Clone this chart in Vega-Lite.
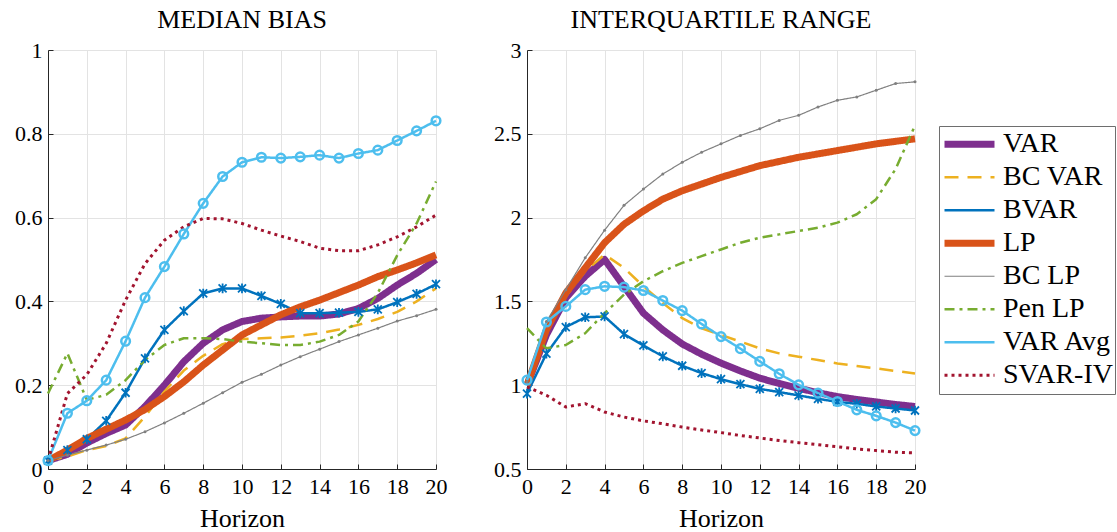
{
  "$schema": "https://vega.github.io/schema/vega-lite/v6.json",
  "background": "white",
  "padding": {"left": 14, "top": 7, "right": 0, "bottom": 0},
  "datasets": {
    "mb": [
      {"s":"VAR","h":0,"v":0.02},{"s":"VAR","h":1,"v":0.035},{"s":"VAR","h":2,"v":0.062},{"s":"VAR","h":3,"v":0.085},{"s":"VAR","h":4,"v":0.105},{"s":"VAR","h":5,"v":0.149},{"s":"VAR","h":6,"v":0.2},{"s":"VAR","h":7,"v":0.256},{"s":"VAR","h":8,"v":0.3},{"s":"VAR","h":9,"v":0.332},{"s":"VAR","h":10,"v":0.352},{"s":"VAR","h":11,"v":0.36},{"s":"VAR","h":12,"v":0.363},{"s":"VAR","h":13,"v":0.365},{"s":"VAR","h":14,"v":0.365},{"s":"VAR","h":15,"v":0.37},{"s":"VAR","h":16,"v":0.383},{"s":"VAR","h":17,"v":0.407},{"s":"VAR","h":18,"v":0.439},{"s":"VAR","h":19,"v":0.467},{"s":"VAR","h":20,"v":0.5},
      {"s":"BC VAR","h":0,"v":0.02},{"s":"BC VAR","h":1,"v":0.03},{"s":"BC VAR","h":2,"v":0.045},{"s":"BC VAR","h":3,"v":0.055},{"s":"BC VAR","h":4,"v":0.073},{"s":"BC VAR","h":5,"v":0.125},{"s":"BC VAR","h":6,"v":0.185},{"s":"BC VAR","h":7,"v":0.235},{"s":"BC VAR","h":8,"v":0.27},{"s":"BC VAR","h":9,"v":0.298},{"s":"BC VAR","h":10,"v":0.31},{"s":"BC VAR","h":11,"v":0.312},{"s":"BC VAR","h":12,"v":0.314},{"s":"BC VAR","h":13,"v":0.318},{"s":"BC VAR","h":14,"v":0.324},{"s":"BC VAR","h":15,"v":0.333},{"s":"BC VAR","h":16,"v":0.344},{"s":"BC VAR","h":17,"v":0.358},{"s":"BC VAR","h":18,"v":0.375},{"s":"BC VAR","h":19,"v":0.4},{"s":"BC VAR","h":20,"v":0.431},
      {"s":"BVAR","h":0,"v":0.02},{"s":"BVAR","h":1,"v":0.045},{"s":"BVAR","h":2,"v":0.071},{"s":"BVAR","h":3,"v":0.115},{"s":"BVAR","h":4,"v":0.182},{"s":"BVAR","h":5,"v":0.264},{"s":"BVAR","h":6,"v":0.332},{"s":"BVAR","h":7,"v":0.377},{"s":"BVAR","h":8,"v":0.419},{"s":"BVAR","h":9,"v":0.431},{"s":"BVAR","h":10,"v":0.431},{"s":"BVAR","h":11,"v":0.413},{"s":"BVAR","h":12,"v":0.394},{"s":"BVAR","h":13,"v":0.372},{"s":"BVAR","h":14,"v":0.372},{"s":"BVAR","h":15,"v":0.373},{"s":"BVAR","h":16,"v":0.375},{"s":"BVAR","h":17,"v":0.381},{"s":"BVAR","h":18,"v":0.398},{"s":"BVAR","h":19,"v":0.418},{"s":"BVAR","h":20,"v":0.441},
      {"s":"LP","h":0,"v":0.02},{"s":"LP","h":1,"v":0.045},{"s":"LP","h":2,"v":0.073},{"s":"LP","h":3,"v":0.095},{"s":"LP","h":4,"v":0.117},{"s":"LP","h":5,"v":0.142},{"s":"LP","h":6,"v":0.173},{"s":"LP","h":7,"v":0.208},{"s":"LP","h":8,"v":0.248},{"s":"LP","h":9,"v":0.284},{"s":"LP","h":10,"v":0.32},{"s":"LP","h":11,"v":0.344},{"s":"LP","h":12,"v":0.368},{"s":"LP","h":13,"v":0.387},{"s":"LP","h":14,"v":0.403},{"s":"LP","h":15,"v":0.421},{"s":"LP","h":16,"v":0.439},{"s":"LP","h":17,"v":0.459},{"s":"LP","h":18,"v":0.475},{"s":"LP","h":19,"v":0.492},{"s":"LP","h":20,"v":0.511},
      {"s":"BC LP","h":0,"v":0.02},{"s":"BC LP","h":1,"v":0.033},{"s":"BC LP","h":2,"v":0.045},{"s":"BC LP","h":3,"v":0.057},{"s":"BC LP","h":4,"v":0.071},{"s":"BC LP","h":5,"v":0.089},{"s":"BC LP","h":6,"v":0.11},{"s":"BC LP","h":7,"v":0.133},{"s":"BC LP","h":8,"v":0.157},{"s":"BC LP","h":9,"v":0.182},{"s":"BC LP","h":10,"v":0.207},{"s":"BC LP","h":11,"v":0.226},{"s":"BC LP","h":12,"v":0.248},{"s":"BC LP","h":13,"v":0.268},{"s":"BC LP","h":14,"v":0.286},{"s":"BC LP","h":15,"v":0.304},{"s":"BC LP","h":16,"v":0.32},{"s":"BC LP","h":17,"v":0.336},{"s":"BC LP","h":18,"v":0.353},{"s":"BC LP","h":19,"v":0.366},{"s":"BC LP","h":20,"v":0.381},
      {"s":"Pen LP","h":0,"v":0.18},{"s":"Pen LP","h":1,"v":0.276},{"s":"Pen LP","h":2,"v":0.165},{"s":"Pen LP","h":3,"v":0.177},{"s":"Pen LP","h":4,"v":0.212},{"s":"Pen LP","h":5,"v":0.26},{"s":"Pen LP","h":6,"v":0.296},{"s":"Pen LP","h":7,"v":0.312},{"s":"Pen LP","h":8,"v":0.312},{"s":"Pen LP","h":9,"v":0.31},{"s":"Pen LP","h":10,"v":0.304},{"s":"Pen LP","h":11,"v":0.3},{"s":"Pen LP","h":12,"v":0.296},{"s":"Pen LP","h":13,"v":0.296},{"s":"Pen LP","h":14,"v":0.304},{"s":"Pen LP","h":15,"v":0.32},{"s":"Pen LP","h":16,"v":0.352},{"s":"Pen LP","h":17,"v":0.42},{"s":"Pen LP","h":18,"v":0.51},{"s":"Pen LP","h":19,"v":0.586},{"s":"Pen LP","h":20,"v":0.686},
      {"s":"VAR Avg","h":0,"v":0.02},{"s":"VAR Avg","h":1,"v":0.133},{"s":"VAR Avg","h":2,"v":0.163},{"s":"VAR Avg","h":3,"v":0.212},{"s":"VAR Avg","h":4,"v":0.305},{"s":"VAR Avg","h":5,"v":0.409},{"s":"VAR Avg","h":6,"v":0.483},{"s":"VAR Avg","h":7,"v":0.561},{"s":"VAR Avg","h":8,"v":0.634},{"s":"VAR Avg","h":9,"v":0.698},{"s":"VAR Avg","h":10,"v":0.732},{"s":"VAR Avg","h":11,"v":0.744},{"s":"VAR Avg","h":12,"v":0.742},{"s":"VAR Avg","h":13,"v":0.745},{"s":"VAR Avg","h":14,"v":0.749},{"s":"VAR Avg","h":15,"v":0.742},{"s":"VAR Avg","h":16,"v":0.753},{"s":"VAR Avg","h":17,"v":0.761},{"s":"VAR Avg","h":18,"v":0.784},{"s":"VAR Avg","h":19,"v":0.807},{"s":"VAR Avg","h":20,"v":0.831},
      {"s":"SVAR-IV","h":0,"v":0.02},{"s":"SVAR-IV","h":1,"v":0.18},{"s":"SVAR-IV","h":2,"v":0.225},{"s":"SVAR-IV","h":3,"v":0.3},{"s":"SVAR-IV","h":4,"v":0.403},{"s":"SVAR-IV","h":5,"v":0.49},{"s":"SVAR-IV","h":6,"v":0.546},{"s":"SVAR-IV","h":7,"v":0.578},{"s":"SVAR-IV","h":8,"v":0.598},{"s":"SVAR-IV","h":9,"v":0.597},{"s":"SVAR-IV","h":10,"v":0.586},{"s":"SVAR-IV","h":11,"v":0.57},{"s":"SVAR-IV","h":12,"v":0.556},{"s":"SVAR-IV","h":13,"v":0.543},{"s":"SVAR-IV","h":14,"v":0.527},{"s":"SVAR-IV","h":15,"v":0.521},{"s":"SVAR-IV","h":16,"v":0.521},{"s":"SVAR-IV","h":17,"v":0.535},{"s":"SVAR-IV","h":18,"v":0.554},{"s":"SVAR-IV","h":19,"v":0.578},{"s":"SVAR-IV","h":20,"v":0.606}
    ],
    "iqr": [
      {"s":"VAR","h":0,"v":1.0},{"s":"VAR","h":1,"v":1.3},{"s":"VAR","h":2,"v":1.52},{"s":"VAR","h":3,"v":1.65},{"s":"VAR","h":4,"v":1.75},{"s":"VAR","h":5,"v":1.59},{"s":"VAR","h":6,"v":1.43},{"s":"VAR","h":7,"v":1.33},{"s":"VAR","h":8,"v":1.246},{"s":"VAR","h":9,"v":1.185},{"s":"VAR","h":10,"v":1.132},{"s":"VAR","h":11,"v":1.085},{"s":"VAR","h":12,"v":1.042},{"s":"VAR","h":13,"v":1.01},{"s":"VAR","h":14,"v":0.982},{"s":"VAR","h":15,"v":0.955},{"s":"VAR","h":16,"v":0.932},{"s":"VAR","h":17,"v":0.915},{"s":"VAR","h":18,"v":0.9},{"s":"VAR","h":19,"v":0.885},{"s":"VAR","h":20,"v":0.873},
      {"s":"BC VAR","h":0,"v":1.0},{"s":"BC VAR","h":1,"v":1.32},{"s":"BC VAR","h":2,"v":1.53},{"s":"BC VAR","h":3,"v":1.68},{"s":"BC VAR","h":4,"v":1.78},{"s":"BC VAR","h":5,"v":1.7},{"s":"BC VAR","h":6,"v":1.59},{"s":"BC VAR","h":7,"v":1.49},{"s":"BC VAR","h":8,"v":1.4},{"s":"BC VAR","h":9,"v":1.34},{"s":"BC VAR","h":10,"v":1.3},{"s":"BC VAR","h":11,"v":1.26},{"s":"BC VAR","h":12,"v":1.22},{"s":"BC VAR","h":13,"v":1.19},{"s":"BC VAR","h":14,"v":1.17},{"s":"BC VAR","h":15,"v":1.15},{"s":"BC VAR","h":16,"v":1.13},{"s":"BC VAR","h":17,"v":1.115},{"s":"BC VAR","h":18,"v":1.1},{"s":"BC VAR","h":19,"v":1.085},{"s":"BC VAR","h":20,"v":1.07},
      {"s":"BVAR","h":0,"v":0.95},{"s":"BVAR","h":1,"v":1.188},{"s":"BVAR","h":2,"v":1.347},{"s":"BVAR","h":3,"v":1.405},{"s":"BVAR","h":4,"v":1.41},{"s":"BVAR","h":5,"v":1.305},{"s":"BVAR","h":6,"v":1.237},{"s":"BVAR","h":7,"v":1.172},{"s":"BVAR","h":8,"v":1.116},{"s":"BVAR","h":9,"v":1.072},{"s":"BVAR","h":10,"v":1.036},{"s":"BVAR","h":11,"v":1.006},{"s":"BVAR","h":12,"v":0.978},{"s":"BVAR","h":13,"v":0.959},{"s":"BVAR","h":14,"v":0.939},{"s":"BVAR","h":15,"v":0.919},{"s":"BVAR","h":16,"v":0.9},{"s":"BVAR","h":17,"v":0.889},{"s":"BVAR","h":18,"v":0.873},{"s":"BVAR","h":19,"v":0.861},{"s":"BVAR","h":20,"v":0.849},
      {"s":"LP","h":0,"v":1.0},{"s":"LP","h":1,"v":1.33},{"s":"LP","h":2,"v":1.55},{"s":"LP","h":3,"v":1.7},{"s":"LP","h":4,"v":1.85},{"s":"LP","h":5,"v":1.96},{"s":"LP","h":6,"v":2.04},{"s":"LP","h":7,"v":2.11},{"s":"LP","h":8,"v":2.16},{"s":"LP","h":9,"v":2.2},{"s":"LP","h":10,"v":2.24},{"s":"LP","h":11,"v":2.275},{"s":"LP","h":12,"v":2.31},{"s":"LP","h":13,"v":2.335},{"s":"LP","h":14,"v":2.36},{"s":"LP","h":15,"v":2.38},{"s":"LP","h":16,"v":2.4},{"s":"LP","h":17,"v":2.42},{"s":"LP","h":18,"v":2.44},{"s":"LP","h":19,"v":2.455},{"s":"LP","h":20,"v":2.47},
      {"s":"BC LP","h":0,"v":1.02},{"s":"BC LP","h":1,"v":1.38},{"s":"BC LP","h":2,"v":1.57},{"s":"BC LP","h":3,"v":1.76},{"s":"BC LP","h":4,"v":1.925},{"s":"BC LP","h":5,"v":2.073},{"s":"BC LP","h":6,"v":2.17},{"s":"BC LP","h":7,"v":2.26},{"s":"BC LP","h":8,"v":2.33},{"s":"BC LP","h":9,"v":2.39},{"s":"BC LP","h":10,"v":2.44},{"s":"BC LP","h":11,"v":2.49},{"s":"BC LP","h":12,"v":2.53},{"s":"BC LP","h":13,"v":2.58},{"s":"BC LP","h":14,"v":2.61},{"s":"BC LP","h":15,"v":2.66},{"s":"BC LP","h":16,"v":2.7},{"s":"BC LP","h":17,"v":2.72},{"s":"BC LP","h":18,"v":2.76},{"s":"BC LP","h":19,"v":2.8},{"s":"BC LP","h":20,"v":2.81},
      {"s":"Pen LP","h":0,"v":1.34},{"s":"Pen LP","h":1,"v":1.22},{"s":"Pen LP","h":2,"v":1.24},{"s":"Pen LP","h":3,"v":1.31},{"s":"Pen LP","h":4,"v":1.43},{"s":"Pen LP","h":5,"v":1.54},{"s":"Pen LP","h":6,"v":1.62},{"s":"Pen LP","h":7,"v":1.68},{"s":"Pen LP","h":8,"v":1.73},{"s":"Pen LP","h":9,"v":1.77},{"s":"Pen LP","h":10,"v":1.81},{"s":"Pen LP","h":11,"v":1.85},{"s":"Pen LP","h":12,"v":1.88},{"s":"Pen LP","h":13,"v":1.9},{"s":"Pen LP","h":14,"v":1.92},{"s":"Pen LP","h":15,"v":1.94},{"s":"Pen LP","h":16,"v":1.97},{"s":"Pen LP","h":17,"v":2.02},{"s":"Pen LP","h":18,"v":2.11},{"s":"Pen LP","h":19,"v":2.29},{"s":"Pen LP","h":20,"v":2.55},
      {"s":"VAR Avg","h":0,"v":1.03},{"s":"VAR Avg","h":1,"v":1.377},{"s":"VAR Avg","h":2,"v":1.47},{"s":"VAR Avg","h":3,"v":1.57},{"s":"VAR Avg","h":4,"v":1.59},{"s":"VAR Avg","h":5,"v":1.585},{"s":"VAR Avg","h":6,"v":1.565},{"s":"VAR Avg","h":7,"v":1.505},{"s":"VAR Avg","h":8,"v":1.445},{"s":"VAR Avg","h":9,"v":1.365},{"s":"VAR Avg","h":10,"v":1.29},{"s":"VAR Avg","h":11,"v":1.218},{"s":"VAR Avg","h":12,"v":1.142},{"s":"VAR Avg","h":13,"v":1.068},{"s":"VAR Avg","h":14,"v":1.002},{"s":"VAR Avg","h":15,"v":0.953},{"s":"VAR Avg","h":16,"v":0.903},{"s":"VAR Avg","h":17,"v":0.853},{"s":"VAR Avg","h":18,"v":0.817},{"s":"VAR Avg","h":19,"v":0.777},{"s":"VAR Avg","h":20,"v":0.729},
      {"s":"SVAR-IV","h":0,"v":0.99},{"s":"SVAR-IV","h":1,"v":0.94},{"s":"SVAR-IV","h":2,"v":0.87},{"s":"SVAR-IV","h":3,"v":0.89},{"s":"SVAR-IV","h":4,"v":0.84},{"s":"SVAR-IV","h":5,"v":0.81},{"s":"SVAR-IV","h":6,"v":0.787},{"s":"SVAR-IV","h":7,"v":0.77},{"s":"SVAR-IV","h":8,"v":0.75},{"s":"SVAR-IV","h":9,"v":0.733},{"s":"SVAR-IV","h":10,"v":0.717},{"s":"SVAR-IV","h":11,"v":0.7},{"s":"SVAR-IV","h":12,"v":0.685},{"s":"SVAR-IV","h":13,"v":0.67},{"s":"SVAR-IV","h":14,"v":0.657},{"s":"SVAR-IV","h":15,"v":0.645},{"s":"SVAR-IV","h":16,"v":0.633},{"s":"SVAR-IV","h":17,"v":0.62},{"s":"SVAR-IV","h":18,"v":0.61},{"s":"SVAR-IV","h":19,"v":0.6},{"s":"SVAR-IV","h":20,"v":0.596}
    ]
  },
  "hconcat": [
    {
      "width": 388, "height": 419,
      "title": {"text": "MEDIAN BIAS"},
      "data": {"name": "mb"},
      "encoding": {
        "x": {"field": "h", "type": "quantitative", "scale": {"domain": [0, 20], "nice": false, "zero": false}, "axis": {"values": [0,2,4,6,8,10,12,14,16,18,20], "format": "d", "title": "Horizon", "labelFont": "Liberation Serif, DejaVu Serif, serif", "titleFont": "Liberation Serif, DejaVu Serif, serif"}},
        "y": {"field": "v", "type": "quantitative", "scale": {"domain": [0, 1], "nice": false, "zero": false}, "axis": {"values": [0,0.2,0.4,0.6,0.8,1], "format": "~g", "title": null, "labelFont": "Liberation Serif, DejaVu Serif, serif"}}
      },
      "layer": [
        {
          "mark": {"type": "line", "strokeCap": "butt", "strokeJoin": "round"},
          "encoding": {
            "color": {"field": "s", "type": "nominal", "title": null,
              "scale": {"domain": ["VAR","BC VAR","BVAR","LP","BC LP","Pen LP","VAR Avg","SVAR-IV"], "range": ["#7E2F8E","#EDB120","#0072BD","#D95319","#808080","#77AC30","#4DBEEE","#A2142F"]},
              "legend": {"orient": "none", "legendX": 891, "legendY": 76, "symbolType": "stroke", "symbolSize": 2500, "clipHeight": 32.5, "rowPadding": 0, "labelFontSize": 28, "labelFont": "Liberation Serif, DejaVu Serif, serif", "labelColor": "black", "labelOffset": 5, "padding": 2, "strokeColor": "#6e6e6e", "fillColor": "white", "labelLimit": 250}},
            "strokeDash": {"field": "s", "type": "nominal", "title": null,
              "scale": {"domain": ["VAR","BC VAR","BVAR","LP","BC LP","Pen LP","VAR Avg","SVAR-IV"], "range": [[1,0],[14,9],[1,0],[1,0],[1,0],[10,5,3,5],[1,0],[3,4]]}},
            "strokeWidth": {"field": "s", "type": "nominal", "title": null,
              "scale": {"type": "ordinal", "domain": ["VAR","BC VAR","BVAR","LP","BC LP","Pen LP","VAR Avg","SVAR-IV"], "range": [7,2.5,2.5,7,1.2,2.5,2.5,3]}}
          }
        },
        {
          "transform": [{"filter": "datum.s === 'BVAR'"}],
          "mark": {"type": "point", "shape": "M-1,-1L1,1M1,-1L-1,1M0,-1.2L0,1.2", "size": 64, "filled": false, "color": "#0072BD", "strokeWidth": 1.8, "opacity": 1}
        },
        {
          "transform": [{"filter": "datum.s === 'BC LP'"}],
          "mark": {"type": "point", "shape": "circle", "size": 9, "filled": true, "color": "#808080", "opacity": 1}
        },
        {
          "transform": [{"filter": "datum.s === 'VAR Avg'"}],
          "mark": {"type": "point", "shape": "circle", "size": 75, "filled": false, "color": "#4DBEEE", "strokeWidth": 2.5, "opacity": 1}
        }
      ]
    },
    {
      "width": 388, "height": 419,
      "title": {"text": "INTERQUARTILE RANGE"},
      "data": {"name": "iqr"},
      "encoding": {
        "x": {"field": "h", "type": "quantitative", "scale": {"domain": [0, 20], "nice": false, "zero": false}, "axis": {"values": [0,2,4,6,8,10,12,14,16,18,20], "format": "d", "title": "Horizon", "labelFont": "Liberation Serif, DejaVu Serif, serif", "titleFont": "Liberation Serif, DejaVu Serif, serif"}},
        "y": {"field": "v", "type": "quantitative", "scale": {"domain": [0.5, 3], "nice": false, "zero": false}, "axis": {"values": [0.5,1,1.5,2,2.5,3], "format": "~g", "title": null, "labelFont": "Liberation Serif, DejaVu Serif, serif"}}
      },
      "layer": [
        {
          "mark": {"type": "line", "strokeCap": "butt", "strokeJoin": "round"},
          "encoding": {
            "color": {"field": "s", "type": "nominal", "title": null,
              "scale": {"domain": ["VAR","BC VAR","BVAR","LP","BC LP","Pen LP","VAR Avg","SVAR-IV"], "range": ["#7E2F8E","#EDB120","#0072BD","#D95319","#808080","#77AC30","#4DBEEE","#A2142F"]},
              "legend": {"orient": "none", "legendX": 891, "legendY": 76, "symbolType": "stroke", "symbolSize": 2500, "clipHeight": 32.5, "rowPadding": 0, "labelFontSize": 28, "labelFont": "Liberation Serif, DejaVu Serif, serif", "labelColor": "black", "labelOffset": 5, "padding": 2, "strokeColor": "#6e6e6e", "fillColor": "white", "labelLimit": 250}},
            "strokeDash": {"field": "s", "type": "nominal", "title": null,
              "scale": {"domain": ["VAR","BC VAR","BVAR","LP","BC LP","Pen LP","VAR Avg","SVAR-IV"], "range": [[1,0],[14,9],[1,0],[1,0],[1,0],[10,5,3,5],[1,0],[3,4]]}},
            "strokeWidth": {"field": "s", "type": "nominal", "title": null,
              "scale": {"type": "ordinal", "domain": ["VAR","BC VAR","BVAR","LP","BC LP","Pen LP","VAR Avg","SVAR-IV"], "range": [7,2.5,2.5,7,1.2,2.5,2.5,3]}}
          }
        },
        {
          "transform": [{"filter": "datum.s === 'BVAR'"}],
          "mark": {"type": "point", "shape": "M-1,-1L1,1M1,-1L-1,1M0,-1.2L0,1.2", "size": 64, "filled": false, "color": "#0072BD", "strokeWidth": 1.8, "opacity": 1}
        },
        {
          "transform": [{"filter": "datum.s === 'BC LP'"}],
          "mark": {"type": "point", "shape": "circle", "size": 9, "filled": true, "color": "#808080", "opacity": 1}
        },
        {
          "transform": [{"filter": "datum.s === 'VAR Avg'"}],
          "mark": {"type": "point", "shape": "circle", "size": 75, "filled": false, "color": "#4DBEEE", "strokeWidth": 2.5, "opacity": 1}
        }
      ]
    }
  ],
  "spacing": 91,
  "bounds": "flush",
  "resolve": {"scale": {"x": "independent", "y": "independent"}},
  "config": {
    "font": "Liberation Serif, DejaVu Serif, serif",
    "view": {"stroke": null},
    "title": {"font": "Liberation Serif, DejaVu Serif, serif", "fontSize": 26, "fontWeight": "normal", "color": "black", "anchor": "middle", "offset": 6},
    "axis": {
      "labelFont": "Liberation Serif, DejaVu Serif, serif", "titleFont": "Liberation Serif, DejaVu Serif, serif",
      "labelFontSize": 22, "titleFontSize": 26, "titleFontWeight": "normal",
      "labelColor": "black", "titleColor": "black",
      "domainColor": "#262626", "domainWidth": 1,
      "tickColor": "#262626", "tickSize": -5, "tickWidth": 1,
      "labelPadding": 8, "titlePadding": 4,
      "grid": true, "gridColor": "#e3e3e3", "gridWidth": 1,
      "labelFlush": false, "labelOverlap": false
    },
    "axisX": {"labelPadding": 12, "titlePadding": 8},
    "axisY": {"labelPadding": 11}
  }
}
